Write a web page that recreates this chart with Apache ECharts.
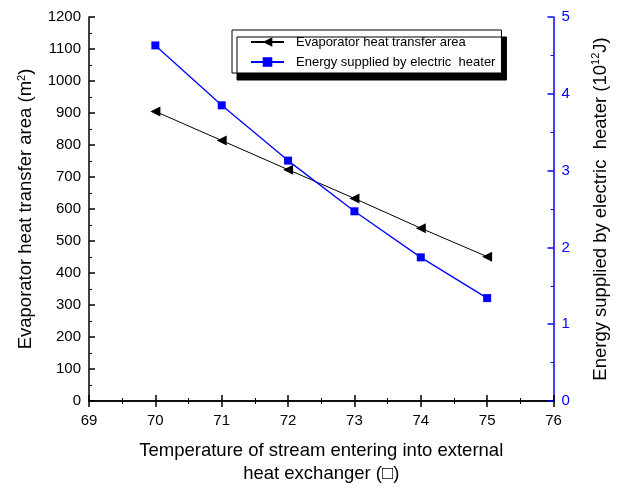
<!DOCTYPE html>
<html><head><meta charset="utf-8">
<script src="https://cdn.jsdelivr.net/npm/echarts@6/dist/echarts.min.js"></script>
<style>html,body{margin:0;padding:0;background:#fff}#c{width:618px;height:490px}</style>
</head><body><div id="c"></div>
<script>
const temps = [70, 71, 72, 73, 74, 75];
const evapArea = [905, 814, 723, 633, 540, 451];
const heaterEnergy = [4.63, 3.85, 3.13, 2.47, 1.87, 1.34];
const seriesNames = ['Evaporator heat transfer area', 'Energy supplied by electric  heater'];

const FONT = 'Liberation Sans, Arial, sans-serif';
const chart = echarts.init(document.getElementById('c'), null, {renderer: 'canvas'});
function ticks(color) {
  return {
    splitLine: {show: false},
    axisTick: {show: true, inside: false, length: -6, lineStyle: {width: 1.5, color: color}},
    minorTick: {show: true, splitNumber: 2, length: -3, lineStyle: {width: 1, color: color}},
    minorSplitLine: {show: false}
  };
}
const plain = v => String(v);
const richTitle = {
  n: {fontSize: 18.5, fontFamily: FONT, color: '#000'},
  s: {fontSize: 11, fontFamily: FONT, color: '#000', verticalAlign: 'top', padding: [0, 0, 9, 0]}
};
chart.setOption({
  animation: false,
  textStyle: {fontFamily: FONT},
  grid: {left: 89, right: 57, top: 17, bottom: 78},
  legend: {
    orient: 'vertical', left: 232, top: 30,
    padding: [4, 6, 3, 18], itemGap: 4, itemWidth: 33, itemHeight: 12,
    backgroundColor: '#fff', borderColor: '#000', borderWidth: 1,
    shadowColor: '#000', shadowBlur: 0, shadowOffsetX: 5, shadowOffsetY: 7,
    textStyle: {fontSize: 13, color: '#000', fontFamily: FONT, lineHeight: 16, padding: [0, 0, 0, 7]},
    data: seriesNames
  },
  xAxis: [{
    type: 'value', min: 69, max: 76, interval: 1,
    axisLine: {lineStyle: {color: '#000', width: 1.5}},
    axisLabel: {color: '#000', fontSize: 15, margin: 12, formatter: plain},
    ...ticks('#000'),
    name: 'Temperature of stream entering into external\nheat exchanger (\u25A1)',
    nameLocation: 'middle', nameGap: 38,
    nameTextStyle: {fontSize: 18.5, color: '#000', lineHeight: 23}
  }, {
    type: 'value', min: 69, max: 76, interval: 1, position: 'top',
    axisLine: {lineStyle: {color: '#000', width: 1.5}},
    axisLabel: {show: false},
    ...ticks('#000')
  }],
  yAxis: [{
    type: 'value', min: 0, max: 1200, interval: 100, position: 'left',
    axisLine: {show: true, lineStyle: {color: '#000', width: 1.5}},
    axisLabel: {color: '#000', fontSize: 15, margin: 8, formatter: plain},
    ...ticks('#000'),
    name: '{n|Evaporator heat transfer area (m}{s|2}{n|)}',
    nameLocation: 'middle', nameGap: 53, nameRotate: 90,
    nameTextStyle: {color: '#000', rich: richTitle}
  }, {
    type: 'value', min: 0, max: 5, interval: 1, position: 'right',
    axisLine: {show: true, lineStyle: {color: '#0000FF', width: 1.5}},
    axisLabel: {color: '#0000FF', fontSize: 15, margin: 8, formatter: plain},
    ...ticks('#0000FF'),
    name: '{n|Energy supplied by electric  heater (10}{s|12}{n|J)}',
    nameLocation: 'middle', nameGap: 37, nameRotate: 90,
    nameTextStyle: {color: '#000', rich: richTitle}
  }],
  series: [{
    name: seriesNames[0], type: 'line', xAxisIndex: 0, yAxisIndex: 0,
    data: temps.map((t, i) => [t, evapArea[i]]),
    symbol: 'triangle', symbolSize: 10, symbolRotate: 90,
    lineStyle: {color: '#000', width: 1}, itemStyle: {color: '#000'}
  }, {
    name: seriesNames[1], type: 'line', xAxisIndex: 0, yAxisIndex: 1,
    data: temps.map((t, i) => [t, heaterEnergy[i]]),
    symbol: 'rect', symbolSize: 8,
    lineStyle: {color: '#0000FF', width: 1.3}, itemStyle: {color: '#0000FF'}
  }]
});
</script></body></html>
